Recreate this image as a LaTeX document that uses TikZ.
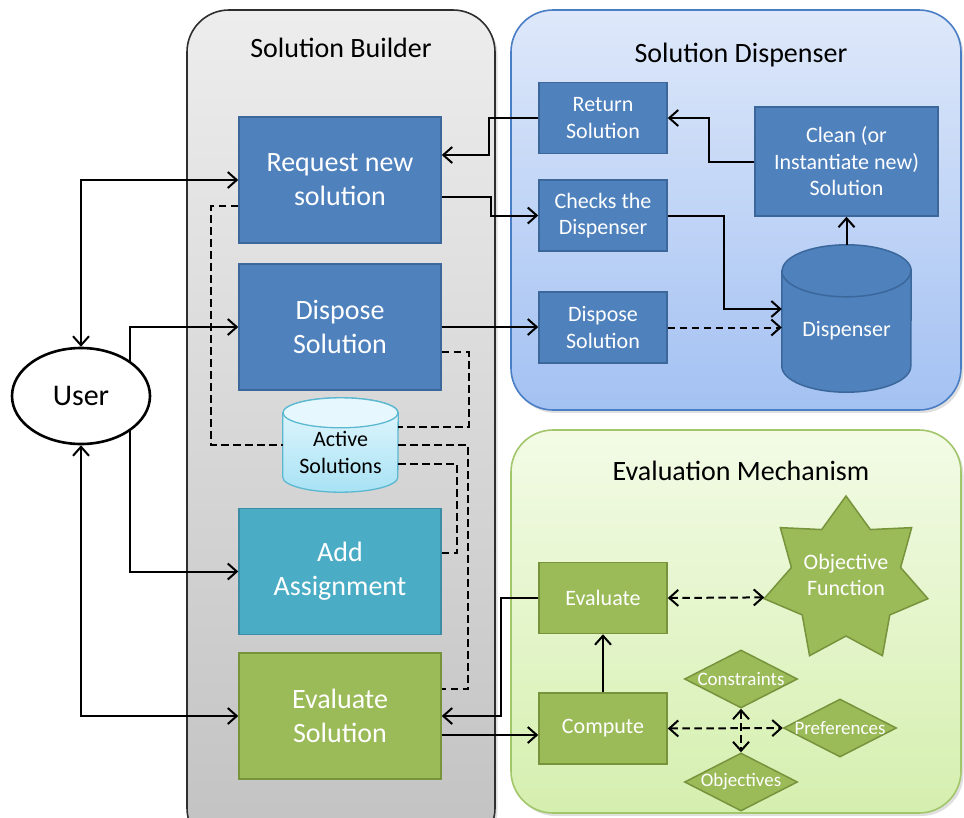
\documentclass[tikz,border=0pt]{standalone}
\usepackage{fontspec}
\setmainfont{Carlito}
\usetikzlibrary{arrows.meta,shapes.geometric,calc,shadows}

\definecolor{sbBlue}{HTML}{4F81BD}
\definecolor{sbBlueEdge}{HTML}{3B679B}
\definecolor{sbTeal}{HTML}{4BACC6}
\definecolor{sbTealEdge}{HTML}{3A8DA5}
\definecolor{sbGreen}{HTML}{9BBB59}
\definecolor{sbGreenEdge}{HTML}{77933C}
\definecolor{grayTop}{HTML}{EDEDED}
\definecolor{grayBot}{HTML}{C2C2C2}
\definecolor{grayEdge}{HTML}{2E2E2E}
\definecolor{blueTop}{HTML}{DEE8FA}
\definecolor{blueBot}{HTML}{A3C1F2}
\definecolor{blueEdge}{HTML}{4A7EC4}
\definecolor{greenTop}{HTML}{F3FBE6}
\definecolor{greenBot}{HTML}{D5EFAF}
\definecolor{greenEdge}{HTML}{A2C66A}
\definecolor{actTop}{HTML}{E6F8FD}
\definecolor{actBody}{HTML}{A8E2F4}
\definecolor{actEdge}{HTML}{5CB8D0}

\newcommand\fsbig{\fontsize{28}{34}\selectfont}
\newcommand\fsuser{\fontsize{30}{36}\selectfont}
\newcommand\fssmall{\fontsize{22}{26.5}\selectfont}
\newcommand\fstiny{\fontsize{19}{23}\selectfont}

\begin{document}
\begin{tikzpicture}[x=1pt,y=-1pt,
  >={Straight Barb[length=9pt,width=16pt]},
  panel/.style={rounded corners=42pt, line width=1.6pt,
    drop shadow={shadow xshift=2.5pt, shadow yshift=-3pt, opacity=0.25}},
  block/.style={rectangle, line width=1.5pt, text=white, align=center, inner sep=2pt},
  bigblock/.style={block, minimum width=202pt, minimum height=126pt, font=\fsbig},
  smallblock/.style={block, minimum width=128pt, minimum height=71pt, font=\fssmall},
  inblue/.style={fill=sbBlue, draw=sbBlueEdge},
  inteal/.style={fill=sbTeal, draw=sbTealEdge},
  ingreen/.style={fill=sbGreen, draw=sbGreenEdge},
  title/.style={font=\fsbig, text=black},
  cylbox/.style={rectangle, inner sep=0pt, draw=none},
  diam/.style={diamond, fill=sbGreen, draw=sbGreenEdge, line width=1.5pt,
    minimum width=113pt, minimum height=58pt, inner sep=0pt},
  dtext/.style={font=\fstiny, text=white},
  flow/.style={line width=2pt},
  dashflow/.style={line width=2pt, dash pattern=on 7.5pt off 4.5pt},
]
\useasboundingbox (0,0) rectangle (964,817);
\clip (0,0) rectangle (964,817);

% background panels
\path[panel, draw=grayEdge, top color=grayTop, bottom color=grayBot]
  (187,10) rectangle (495,850);
\path[panel, draw=blueEdge, top color=blueTop, bottom color=blueBot]
  (511,10) rectangle (961,410);
\path[panel, draw=greenEdge, top color=greenTop, bottom color=greenBot]
  (511,430) rectangle (961,813);

\node[title] (tb) at (341,48) {Solution Builder};
\node[title] (td) at (741,55) {Solution Dispenser};
\node[title] (te) at (741,471) {Evaluation Mechanism};

% user
\node[ellipse, draw, line width=2.6pt, fill=white, minimum width=138pt,
  minimum height=96pt, font=\fsuser] (user) at (81,396) {User};

% solution builder blocks
\node[bigblock, inblue] (req) at (340,180) {Request new\\solution};
\node[bigblock, inblue] (dsp) at (340,327) {Dispose\\Solution};
\node[bigblock, inteal] (add) at (340,571.5) {Add\\Assignment};
\node[bigblock, ingreen] (evs) at (340,716) {Evaluate\\Solution};

% active solutions store (cylinder)
\node[cylbox, minimum width=115pt, minimum height=94pt] (act) at (340.5,445) {};
\path[top color=actTop, bottom color=actBody, draw=actEdge, line width=1.3pt]
  ([yshift=-15pt]act.north west) -- ([yshift=15pt]act.south west)
  arc[start angle=180, end angle=360, x radius=57.5pt, y radius=15pt]
  -- ([yshift=-15pt]act.north east)
  arc[start angle=0, end angle=180, x radius=57.5pt, y radius=15pt] -- cycle;
\path[fill=actTop, draw=actEdge, line width=1.3pt]
  ([yshift=-15pt]act.north) ellipse[x radius=57.5pt, y radius=15pt];
\node[font=\fssmall, align=center, yshift=-7.5pt] (actlbl) at (act) {Active\\Solutions};

% solution dispenser blocks
\node[smallblock, inblue] (ret) at (603,118) {Return\\Solution};
\node[smallblock, inblue] (chk) at (603,215.5) {Checks the\\Dispenser};
\node[smallblock, inblue] (dd) at (603,327.5) {Dispose\\Solution};
\node[block, inblue, font=\fssmall, minimum width=183pt, minimum height=109pt]
  (cln) at (846.5,161.5) {Clean (or\\Instantiate new)\\Solution};

% dispenser store (cylinder)
\node[cylbox, minimum width=129pt, minimum height=147pt] (disp) at (846.5,318.5) {};
\path[fill=sbBlue, draw=sbBlueEdge, line width=1.5pt]
  ([yshift=-26pt]disp.north west) -- ([yshift=26pt]disp.south west)
  arc[start angle=180, end angle=360, x radius=64.5pt, y radius=26pt]
  -- ([yshift=-26pt]disp.north east)
  arc[start angle=0, end angle=180, x radius=64.5pt, y radius=26pt] -- cycle;
\draw[sbBlueEdge, line width=1.5pt]
  ([yshift=-26pt]disp.north west)
  arc[start angle=180, end angle=360, x radius=64.5pt, y radius=26pt];
\node[font=\fssmall, text=white, yshift=-12pt] (displbl) at (disp) {Dispenser};

% evaluation mechanism blocks
\node[smallblock, ingreen] (evl) at (603,598) {Evaluate};
\node[smallblock, ingreen] (cmp) at (603,728.5) {Compute};
\node[star, star points=7, star point ratio=1.5, minimum size=168pt,
  inner sep=0pt, fill=sbGreen, draw=sbGreenEdge, line width=1.5pt,
  label={[font=\fssmall, text=white, align=center, yshift=5pt]center:Objective\\Function}]
  (obj) at (846,580) {};
\node[diam, label={[dtext]center:Constraints}] (cons) at (741,679) {};
\node[diam, label={[dtext]center:Preferences}] (pref) at (840,728) {};
\node[diam, label={[dtext]center:Objectives}] (objs) at (741,782) {};

% user interactions
\draw[flow, <->] (user.north) |- (req.west);
\draw[flow, ->] (user.36.7) |- (dsp.west);
\draw[flow, ->] (user.-36.7) |- (add.west);
\draw[flow, <->] (user.south) |- (evs.west);

% builder <-> dispenser
\draw[flow, ->] (ret.west) -- ++(-49,0) |- ([yshift=25pt]req.east);
\draw[flow, ->] ([yshift=-17pt]req.east) -- ++(49,0) |- (chk.west);
\draw[flow, ->] (dsp.east) -- (dsp.east -| dd.west);

% inside the dispenser
\draw[flow, ->] (cln.west) -- ++(-45,0) |- (ret.east);
\draw[flow, ->] (disp.north) -- (cln.south);
\draw[flow, ->] (chk.east) -- ++(56,0) |- ([yshift=9.5pt]disp.west);
\draw[dashflow, ->] (dd.east) -- (dd.east -| disp.west);

% active solutions links
\draw[dashflow] ([yshift=-26pt]req.west) -- ++(-27,0) |- (act.west);
\draw[dashflow] ([yshift=-25pt]dsp.east) -- ++(27,0) |- ([yshift=18pt]act.east);
\draw[dashflow] (act.east) -- ++(70,0) |- ([yshift=27pt]evs.east);
\draw[dashflow] ([yshift=-19pt]act.east) -- ++(59,0) |- ([yshift=18.5pt]add.east);

% builder <-> evaluation
\draw[flow, ->] (evl.west) -- ++(-37,0) |- (evs.east);
\draw[flow, ->] ([yshift=-19pt]evs.east) -- ([yshift=-19pt]evs.east -| cmp.west);

% inside the evaluation mechanism
\draw[flow, ->] (cmp.north) -- (evl.south);
\draw[dashflow, <->] (evl.east) -- (obj.192.86);
\draw[dashflow, <->] (cmp.east) -- (pref.west);
\draw[dashflow, <->] (cons.south) -- (objs.north);
\end{tikzpicture}
\end{document}
